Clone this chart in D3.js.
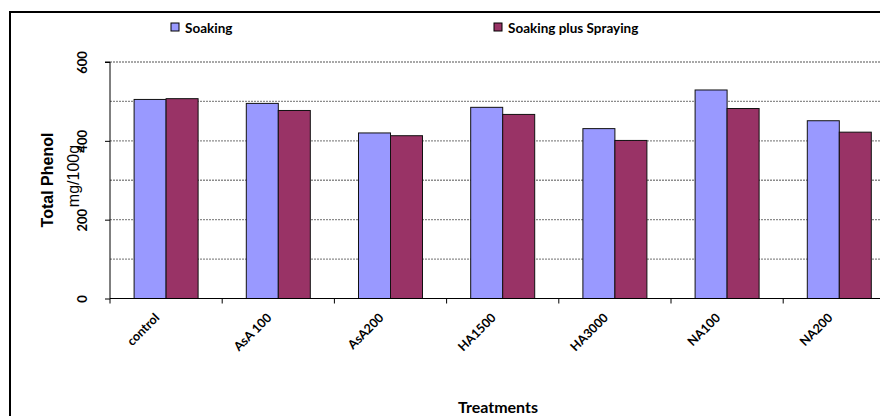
<!DOCTYPE html>
<html>
<head>
<meta charset="utf-8">
<script src="https://cdn.jsdelivr.net/npm/d3@7"></script>
<style>
  body { margin: 0; background: #fff; }
  svg { display: block; }
</style>
</head>
<body>
<div id="chart-area"></div>
<script>
const categories = ["control", "AsA 100", "AsA200", "HA1500", "HA3000", "NA100", "NA200"];
const seriesNames = ["Soaking", "Soaking plus Spraying"];
const soaking = [505, 495, 420, 485, 431, 529, 451];
const spraying = [507, 477, 413, 467, 401, 482, 422];
const yTicks = [0, 200, 400, 600];
const yGrid = [100, 200, 300, 400, 500, 600];
const colors = ["#9999ff", "#993366"];

const W = 880, H = 416;
const plot = { left: 110, top: 62, bottom: 298.5, right: 110 + 7 * 112.2 };
const calibri = "Lato, 'Open Sans', sans-serif";

const svg = d3.select("#chart-area")
  .append("svg")
  .attr("width", W)
  .attr("height", H);

// outer chart frame (right and bottom edges fall outside the picture)
svg.append("rect")
  .attr("x", 10).attr("y", 12)
  .attr("width", 900).attr("height", 430)
  .attr("fill", "#fff")
  .attr("stroke", "#000")
  .attr("stroke-width", 2);

const x = d3.scaleBand()
  .domain(categories)
  .range([plot.left, plot.right])
  .paddingInner(0)
  .paddingOuter(0);

const x1 = d3.scaleBand()
  .domain(seriesNames)
  .range([0, x.bandwidth()])
  .paddingInner(0)
  .paddingOuter(0.753);

const y = d3.scaleLinear()
  .domain([0, 600])
  .range([plot.bottom, plot.top]);

// gridlines
svg.append("g")
  .selectAll("line")
  .data(yGrid)
  .enter()
  .append("line")
  .attr("x1", plot.left)
  .attr("x2", W + 20)
  .attr("y1", d => y(d))
  .attr("y2", d => y(d))
  .attr("stroke", "#8c8c8c")
  .attr("stroke-width", 1.3)
  .attr("stroke-dasharray", "2,1");

// y axis
const yAxis = d3.axisLeft(y)
  .tickValues(yTicks)
  .tickSize(5)
  .tickFormat(d3.format("d"));

const gy = svg.append("g")
  .attr("transform", `translate(${plot.left},0)`)
  .call(yAxis);
gy.select(".domain").attr("stroke", "#000").attr("d", `M-5,${y(600)}H0V${plot.bottom}`);
gy.selectAll(".tick line").attr("stroke", "#000");
gy.selectAll(".tick text")
  .attr("x", 0).attr("y", 0).attr("dy", 0)
  .attr("transform", "translate(-23,0) rotate(-90)")
  .attr("text-anchor", "middle")
  .attr("font-family", calibri)
  .attr("font-weight", "bold")
  .attr("font-size", "13px")
  .attr("fill", "#000");

// bars
const groups = svg.append("g")
  .selectAll("g")
  .data(categories)
  .enter()
  .append("g")
  .attr("transform", d => `translate(${x(d)},0)`);

groups.selectAll("rect")
  .data((d, i) => [
    { name: seriesNames[0], value: soaking[i], c: colors[0] },
    { name: seriesNames[1], value: spraying[i], c: colors[1] }
  ])
  .enter()
  .append("rect")
  .attr("x", d => x1(d.name))
  .attr("y", d => y(d.value))
  .attr("width", x1.bandwidth())
  .attr("height", d => plot.bottom - y(d.value))
  .attr("fill", d => d.c)
  .attr("stroke", "#111")
  .attr("stroke-width", 1);

// x axis
const xAxis = d3.axisBottom(x).tickSize(0).tickFormat("");
const gx = svg.append("g")
  .attr("transform", `translate(0,${plot.bottom})`)
  .call(xAxis);
gx.select(".domain").attr("stroke", "#000").attr("d", `M${plot.left},0H${W + 20}`);

svg.append("g")
  .selectAll("line")
  .data(categories)
  .enter()
  .append("line")
  .attr("x1", d => x(d))
  .attr("x2", d => x(d))
  .attr("y1", plot.bottom)
  .attr("y2", plot.bottom + 5)
  .attr("stroke", "#000");

svg.append("g")
  .selectAll("text")
  .data(categories)
  .enter()
  .append("text")
  .attr("transform", d => `translate(${x(d) + x.bandwidth() / 2 - 6},${plot.bottom + 20}) rotate(-45)`)
  .attr("text-anchor", "end")
  .attr("font-family", calibri)
  .attr("font-weight", "bold")
  .attr("font-size", "12.5px")
  .text(d => d);

// axis titles
svg.append("text")
  .attr("transform", "translate(53,180) rotate(-90)")
  .attr("text-anchor", "middle")
  .attr("font-family", "'Liberation Sans', Arial, sans-serif")
  .attr("font-weight", "bold")
  .attr("font-size", "16px")
  .text("Total Phenol");

svg.append("text")
  .attr("transform", "translate(79,176) rotate(-90)")
  .attr("text-anchor", "middle")
  .attr("font-family", "'Liberation Sans', Arial, sans-serif")
  .attr("font-size", "16px")
  .text("mg/100g");

svg.append("text")
  .attr("x", 498)
  .attr("y", 413)
  .attr("text-anchor", "middle")
  .attr("font-family", calibri)
  .attr("font-weight", "bold")
  .attr("font-size", "16px")
  .text("Treatments");

// legend
const legendX = [171, 494];
const legend = svg.append("g")
  .selectAll("g")
  .data(seriesNames)
  .enter()
  .append("g")
  .attr("transform", (d, i) => `translate(${legendX[i]},23)`);

legend.append("rect")
  .attr("width", 8).attr("height", 8)
  .attr("fill", (d, i) => colors[i])
  .attr("stroke", "#000");

legend.append("text")
  .attr("x", 14)
  .attr("y", 9.5)
  .attr("font-family", calibri)
  .attr("font-weight", "bold")
  .attr("font-size", "13.5px")
  .text(d => d);
</script>
</body>
</html>
